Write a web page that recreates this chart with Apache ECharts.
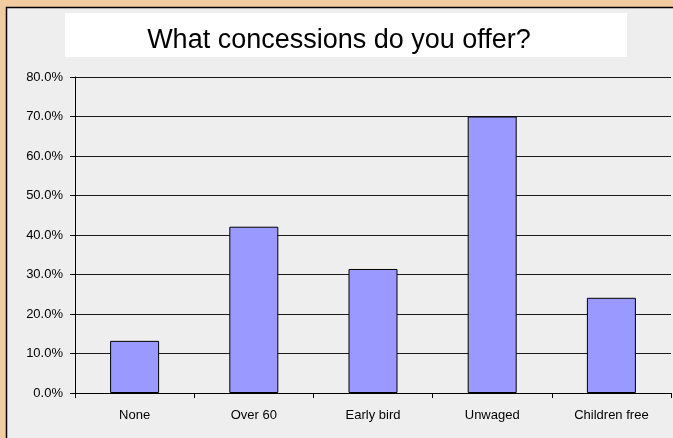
<!DOCTYPE html>
<html>
<head>
<meta charset="utf-8">
<script src="https://cdn.jsdelivr.net/npm/echarts@6/dist/echarts.min.js"></script>
<style>
html, body { margin: 0; padding: 0; background: #f0cca0; }
#chart { width: 673px; height: 438px; }
</style>
</head>
<body>
<div id="chart"></div>
<script>
var categories = ['None', 'Over 60', 'Early bird', 'Unwaged', 'Children free'];
var percentValues = [13.2, 42.1, 31.4, 70.0, 24.1];
var chartTitle = 'What concessions do you offer?';

var myChart = echarts.init(document.getElementById('chart'));

var option = {
    backgroundColor: '#f0cca0',
    animation: false,
    graphic: [{
        type: 'rect',
        z: -10,
        shape: { x: 6.5, y: 7.5, width: 680, height: 440 },
        style: { fill: '#eeeeee', stroke: '#000', lineWidth: 1.5 }
    }, {
        type: 'rect',
        z: -5,
        shape: { x: 65, y: 13, width: 562, height: 44 },
        style: { fill: '#ffffff' }
    }],
    title: {
        text: chartTitle,
        left: 334,
        top: 22,
        textAlign: 'center',
        textStyle: {
            fontFamily: 'Liberation Sans',
            fontSize: 27,
            fontWeight: 'normal',
            color: '#000'
        }
    },
    grid: {
        left: 75,
        right: 2,
        top: 77,
        bottom: 45
    },
    xAxis: {
        type: 'category',
        data: categories,
        axisLine: { lineStyle: { color: '#000', width: 1 } },
        axisTick: { show: true, length: 5, lineStyle: { color: '#000' } },
        axisLabel: {
            margin: 16,
            fontFamily: 'Liberation Sans',
            fontSize: 13,
            color: '#000'
        }
    },
    yAxis: {
        type: 'value',
        min: 0,
        max: 80,
        interval: 10,
        axisLine: { show: true, lineStyle: { color: '#000', width: 1 } },
        axisTick: { show: true, length: 5, lineStyle: { color: '#000' } },
        splitLine: { show: true, lineStyle: { color: '#1a1a1a', width: 1 } },
        axisLabel: {
            margin: 12,
            fontFamily: 'Liberation Sans',
            fontSize: 13,
            color: '#000',
            formatter: function(value) {
                return value.toFixed(1) + '%';
            }
        }
    },
    series: [{
        type: 'bar',
        data: percentValues,
        barWidth: 49,
        itemStyle: {
            color: '#9999ff',
            borderColor: '#000',
            borderWidth: 1
        }
    }]
};

myChart.setOption(option);
</script>
</body>
</html>
